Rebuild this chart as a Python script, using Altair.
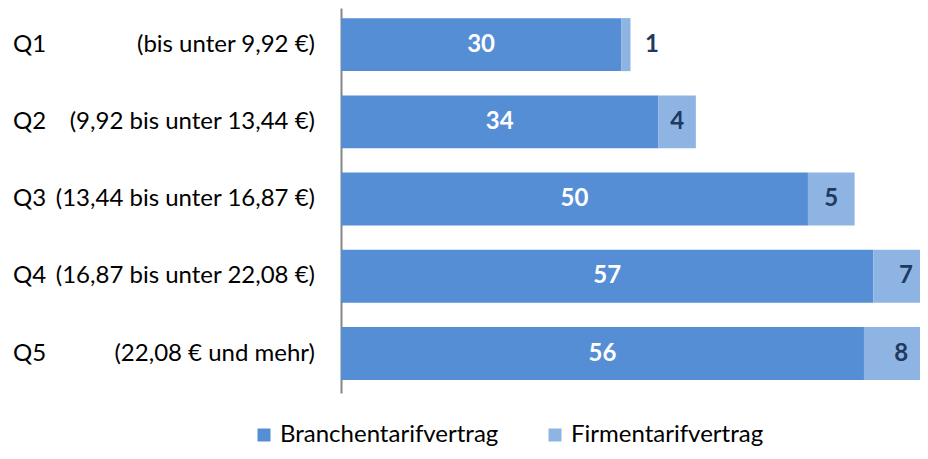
import altair as alt
import pandas as pd

quintiles = ["Q1", "Q2", "Q3", "Q4", "Q5"]
ranges = [
    "(bis unter 9,92 €)",
    "(9,92 bis unter 13,44 €)",
    "(13,44 bis unter 16,87 €)",
    "(16,87 bis unter 22,08 €)",
    "(22,08 € und mehr)",
]
series_names = ["Branchentarifvertrag", "Firmentarifvertrag"]
branchen = [30, 34, 50, 57, 56]
firmen = [1, 4, 5, 7, 8]
colors = ["#558ED5", "#8EB4E3"]

rows = []
for i, q in enumerate(quintiles):
    for k, (name, vals) in enumerate(zip(series_names, [branchen, firmen])):
        rows.append({"q": q, "series": name, "value": vals[i], "ord": k})
df = pd.DataFrame(rows)
labels_df = pd.DataFrame({"q": quintiles, "range": ranges})

FONT = "Lato"

y_enc = alt.Y(
    "q:N",
    sort=quintiles,
    scale=alt.Scale(paddingInner=0.314, paddingOuter=0.149, align=0.44),
    axis=alt.Axis(labels=False, ticks=False, title=None, domainColor="#868686",
                  domainWidth=2, grid=False),
)
x_scale = alt.Scale(domain=[0, 62], nice=False, zero=True)

bars = alt.Chart(df).mark_bar(clip=True).encode(
    x=alt.X("value:Q", stack="zero", scale=x_scale, axis=None),
    y=y_enc,
    color=alt.Color(
        "series:N",
        scale=alt.Scale(domain=series_names, range=colors),
        legend=alt.Legend(title=None),
    ),
    order=alt.Order("ord:Q"),
)

values_text = (
    alt.Chart(df)
    .transform_stack(stack="value", groupby=["q"], as_=["v0", "v1"],
                     sort=[alt.SortField("ord", order="ascending")])
    .transform_calculate(mid="datum.value < 2 ? datum.v1 + 2.3 : (datum.v0 + datum.v1) / 2")
    .mark_text(font=FONT, fontSize=24, fontWeight="bold", baseline="middle", align="center")
    .encode(
        x=alt.X("mid:Q", scale=x_scale, axis=None),
        y=alt.Y("q:N", sort=quintiles),
        text=alt.Text("value:Q"),
        color=alt.condition(alt.datum.series == "Branchentarifvertrag",
                            alt.value("white"), alt.value("#1F3A5F")),
    )
)

q_text = alt.Chart(labels_df).mark_text(
    font=FONT, fontSize=24, align="left", baseline="middle", color="#000000"
).encode(
    x=alt.value(-328),
    y=alt.Y("q:N", sort=quintiles),
    text="q:N",
)

range_text = alt.Chart(labels_df).mark_text(
    font=FONT, fontSize=24, align="right", baseline="middle", color="#000000"
).encode(
    x=alt.value(-26),
    y=alt.Y("q:N", sort=quintiles),
    text="range:N",
)

chart = (
    alt.layer(bars, values_text, q_text, range_text)
    .properties(
        width=579,
        height=385,
        autosize=alt.AutoSizeParams(type="none"),
        padding={"left": 333, "top": 0, "right": 0, "bottom": 57},
    )
    .configure_view(stroke=None)
    .configure_legend(
        orient="none",
        legendX=-89,
        legendY=415,
        direction="horizontal",
        symbolType="square",
        symbolSize=169,
        symbolStrokeWidth=0,
        labelFont=FONT,
        labelFontSize=24,
        labelColor="#000000",
        labelOffset=4,
        labelLimit=0,
        columnPadding=44,
    )
)

chart.save("out.html", embed_options={"renderer": "svg", "actions": False})
